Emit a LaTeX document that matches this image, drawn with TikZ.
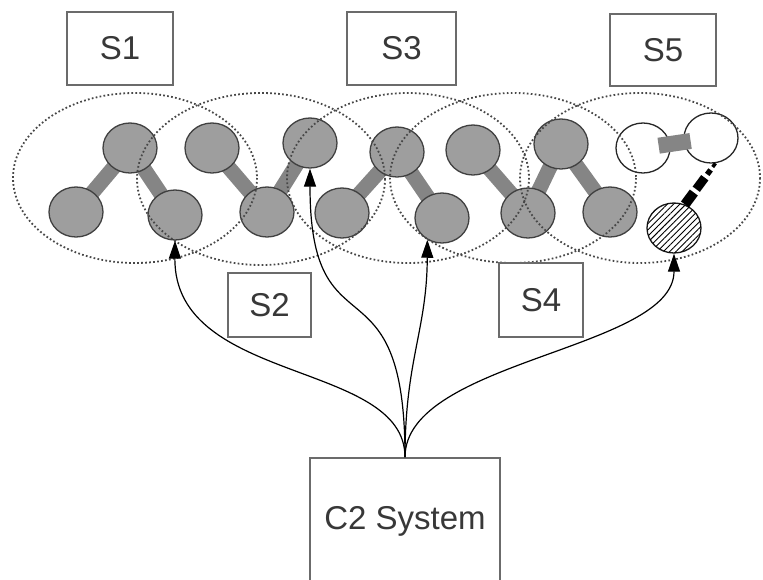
\documentclass[tikz,border=0pt]{standalone}
\usepackage{fontspec}
\setmainfont{Liberation Sans}
\usetikzlibrary{shapes.geometric,arrows.meta,patterns.meta,calc}
\pgfdeclarelayer{bonds}
\pgfsetlayers{bonds,main}
\begin{document}
\begin{tikzpicture}[x=1pt,y=-1pt,
  ball/.style={ellipse,draw=black!75,line width=1.3pt,fill=black!38,
    minimum width=54pt,minimum height=50pt,inner sep=0pt},
  openball/.style={ball,fill=white,draw=black!85},
  hatchball/.style={ball,draw=black!90,fill=white,
    postaction={pattern={Lines[angle=45,distance=4.4pt,line width=0.9pt]}}},
  bond/.style={line width=15pt,draw=black!48},
  zone/.style={draw=black!72,line width=1.8pt,dash pattern=on 1.7pt off 2.3pt},
  tag/.style={draw=black!58,line width=1.6pt,fill=white,text=black!78,
    font=\fontsize{33}{36}\selectfont,inner sep=0pt},
  feed/.style={line width=1.2pt,-{Triangle[length=18pt,width=12pt]}}
]
\useasboundingbox (0,0) rectangle (763,579);
\clip (0,0) rectangle (763,579);

% particles
\node[ball] (b1a) at (76,212) {};
\node[ball] (b1b) at (130,148) {};
\node[ball] (b1c) at (175,215) {};
\node[ball] (b2a) at (212,148) {};
\node[ball] (b2b) at (267,212) {};
\node[ball] (b2c) at (310,143) {};
\node[ball] (b3a) at (342,213) {};
\node[ball] (b3b) at (397,152) {};
\node[ball] (b3c) at (442,218) {};
\node[ball] (b4a) at (473,150) {};
\node[ball] (b4b) at (528,213) {};
\node[ball] (b4c) at (561,144) {};
\node[ball] (b4d) at (610,212) {};
\node[openball] (w1) at (643,148) {};
\node[openball] (w2) at (711,138) {};
\node[hatchball] (h) at (674,228) {};

% bonds, kept underneath the particles
\begin{pgfonlayer}{bonds}
\foreach \p/\q in {b1a/b1b,b1b/b1c,b2a/b2b,b2b/b2c,b3a/b3b,b3b/b3c,b4a/b4b,b4b/b4c,b4c/b4d}
  \draw[bond] (\p.center) -- (\q.center);
\end{pgfonlayer}

% broken bond between the open particles
\draw[line width=16pt,draw=black!48] ($(w1)!0.23!(w2)$) -- ($(w1)!0.70!(w2)$);

% dashed tether to the hatched particle
\coordinate (ta) at (w2.-80);
\coordinate (tb) at (h.65);
\draw[line width=3.5pt] ($(ta)!0!(tb)$) -- ($(ta)!0.09!(tb)$);
\draw[line width=5.5pt] ($(ta)!0.16!(tb)$) -- ($(ta)!0.27!(tb)$);
\draw[line width=9pt] ($(ta)!0.35!(tb)$) -- ($(ta)!0.63!(tb)$);
\draw[line width=10pt] ($(ta)!0.71!(tb)$) -- ($(ta)!1!(tb)$);

% overlapping zones
\draw[zone] (135,178) ellipse [x radius=122, y radius=85];
\draw[zone] (261,179) ellipse [x radius=124, y radius=86];
\draw[zone] (408,178) ellipse [x radius=121, y radius=85];
\draw[zone] (513,178) ellipse [x radius=123, y radius=85];
\draw[zone] (640,178) ellipse [x radius=120, y radius=85];

% labels
\node[tag,minimum width=106pt,minimum height=73pt] (s1) at (120,48.5) {S1};
\node[tag,minimum width=109pt,minimum height=73pt] (s3) at (401.5,48.5) {S3};
\node[tag,minimum width=106pt,minimum height=72pt] (s5) at (663,50) {S5};
\node[tag,minimum width=83pt,minimum height=64pt] (s2) at (269.5,305) {S2};
\node[tag,minimum width=84pt,minimum height=74pt] (s4) at (541,300) {S4};
\node[tag,minimum width=190pt,minimum height=126pt] (c2) at (405,521) {C2 System};

% control links
\coordinate (hub) at (c2.north);
\draw[feed] (hub) .. controls (405,360) and (174,385) .. (b1c.south);
\draw[feed] (hub) .. controls (405,250) and (310,360) .. (b2c.south);
\draw[feed] (hub) .. controls (405,360) and (427,330) .. (b3c.236);
\draw[feed] (hub) .. controls (405,360) and (674,350) .. (h.south);
\end{tikzpicture}
\end{document}
